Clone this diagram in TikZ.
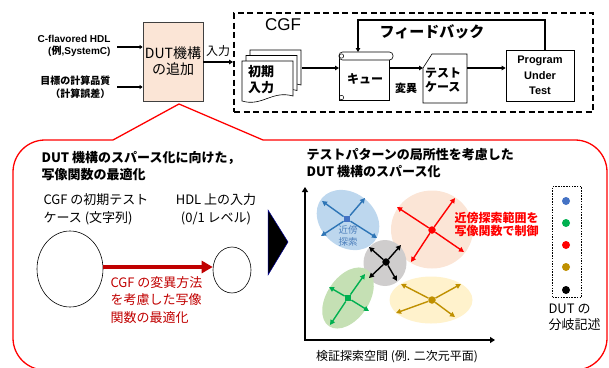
\documentclass[tikz,border=0pt]{standalone}
\usepackage{fontspec}
\setmainfont{Liberation Sans}
\newfontfamily\jp{Noto Sans CJK JP}
\usetikzlibrary{arrows.meta,shapes.geometric}
\definecolor{peach}{HTML}{FBE5D6}
\definecolor{darkred}{HTML}{C00000}
\definecolor{eblue}{HTML}{BDD7EE}
\definecolor{egray}{HTML}{CFCDCD}
\definecolor{egreen}{HTML}{C5E0B4}
\definecolor{eyellow}{HTML}{FFF2CC}
\definecolor{cblue}{HTML}{2E75B6}
\definecolor{dblue}{HTML}{4472C4}
\definecolor{cgreen}{HTML}{00B050}
\definecolor{cgold}{HTML}{BF9000}
\definecolor{lblue}{HTML}{4F81BD}
\definecolor{boxline}{HTML}{404040}
\begin{document}
\begin{tikzpicture}[x=1pt,y=-1pt,
  arr/.style={line width=1.2pt,-{Triangle[length=4pt,width=4.5pt]}},
  inarr/.style={line width=1.6pt,-{Triangle[length=3pt,width=4pt]}},
  sarr/.style={line width=1.4pt,-{Triangle[length=5pt,width=5pt]}},
  dotc/.style={circle,inner sep=0,minimum size=7.5pt},
  dots/.style={rectangle,inner sep=0,minimum size=6.5pt},
  blob/.style={ellipse,inner sep=0},
  anch/.style={inner sep=0,outer sep=0},
  jbold/.style 2 args={font=\jp\bfseries\fontsize{#1}{#2}\selectfont},
  jreg/.style 2 args={font=\jp\fontsize{#1}{#2}\selectfont},
]
\useasboundingbox (0,0) rectangle (609,367);

% ---------- red callout ----------
\coordinate (apex) at (179,104);
\draw[red,line width=1.3pt,rounded corners=32pt] (113,140) -- (13,140) -- (13,370) -- (607,370) -- (607,140) -- (263,140);
\draw[red,line width=1.3pt,line join=round] (113,140) -- (apex) -- (263,140);

% ---------- top: inputs and DUT ----------
\node[anchor=east,align=right,font=\bfseries\fontsize{10}{12.5}\selectfont] (hdl) at (114,46) {C-flavored HDL\\({\jp 例},SystemC)};
\node[anchor=east,align=right,jbold={10}{13}] (qual) at (114,87.5) {目標の計算品質\\（計算誤差）};
\node[draw=boxline,fill=peach,line width=0.8pt,minimum width=60,minimum height=79,inner sep=0,align=center,font=\jp\fontsize{14}{16}\selectfont] (dut) at (173,61.5) {DUT機構\\の追加};
\coordinate (h1) at (117,47);
\coordinate (h2) at (117,87);
\draw[inarr] (h1) -- (dut.west |- h1);
\draw[inarr] (h2) -- (dut.west |- h2);

% ---------- CGF box ----------
\node[draw,line width=1.8pt,dash pattern=on 6pt off 3.5pt,minimum width=359,minimum height=99,inner sep=0] (cgf) at (413.5,62.5) {};
\coordinate (r62) at (0,62);
\draw[arr] (dut.east |- r62) -- (cgf.west |- r62);
\node[jreg={12}{14}] (inlab) at (218,51) {入力};
\node[font=\fontsize{17}{20}\selectfont] (cgflab) at (283,25) {CGF};

% initial inputs (multi document)
\foreach \o in {8,4,0}{
  \begin{scope}[shift={(\o,{-1.375*\o})}]
    \draw[line width=0.6pt,fill=white] (242,61) -- (293,61) -- (293,96) .. controls (272,90) and (262,107) .. (242,101) -- cycle;
  \end{scope}
}
\node[anch,minimum width=60,minimum height=52] (docs) at (272,76) {};
\node[align=left,jbold={13}{16}] (docst) at (261,80) {初期\\入力};

% queue (scroll)
\draw[line width=0.6pt,fill=white] (339,56) -- (339,100) -- (389,100) -- (389,58);
\draw[line width=0.6pt,fill=white,rounded corners=3.5pt] (339,52) rectangle (393,60);
\draw[line width=0.5pt] (341.5,56) circle (2.2);
\draw[line width=0.5pt] (341.5,97.5) circle (2.2);
\node[anch,minimum width=50,minimum height=48] (queue) at (364,76) {};
\node[jbold={12}{14}] (queuet) at (365,79) {キュー};

% test case (card)
\draw[line width=0.6pt,fill=white] (432,54) -- (467,54) -- (467,103) -- (423,103) -- (423,68) -- cycle;
\node[anch,minimum width=44,minimum height=49] (card) at (445,78.5) {};
\node[align=left,jbold={12}{14.5}] (cardt) at (443,80) {テスト\\ケース};

% program under test
\node[draw,line width=0.7pt,minimum width=68,minimum height=51,inner sep=0,align=center,font=\bfseries\fontsize{11}{15.5}\selectfont] (put) at (540,75.5) {Program\\Under\\Test};

\coordinate (row) at (0,68);
\draw[arr] (docs.east |- row) -- (queue.west |- row);
\draw[arr] (queue.east |- row) -- (card.west |- row);
\draw[arr] (card.east |- row) -- (put.west |- row);
\node[jbold={11}{13}] (mut) at (406,88) {変異};

% feedback
\coordinate (fbR) at (545,20);
\coordinate (fbL) at (358,20);
\draw[arr] (fbR |- put.north) -- (fbR) -- (fbL) -- (fbL |- queue.north);
\node[jbold={15}{17}] (fblab) at (432,32) {フィードバック};

% ---------- left panel ----------
\node[anchor=west,align=left,jbold={13}{17}] (ltitle) at (38,166.5) {DUT 機構のスパース化に向けた，\\写像関数の最適化};
\node[anchor=west,align=left,jreg={13}{18}] (cgfinit) at (40,209) {CGF の初期テスト\\ケース (文字列)};
\node[align=center,jreg={13}{18}] (hdlin) at (216,209) {HDL 上の入力\\(0/1 レベル)};
\node[draw,ellipse,line width=0.6pt,minimum width=66,minimum height=76,inner sep=0] (big) at (70,269) {};
\node[draw,ellipse,line width=0.6pt,minimum width=38,minimum height=46,inner sep=0] (small) at (232,270) {};
\coordinate (r267) at (0,267);
\draw[darkred,line width=3.5pt,-{Triangle[length=11pt,width=12pt]}] (big.east |- r267) -- (small.west |- r267);
\node[anchor=west,align=left,text=darkred,jreg={13}{17.5}] (redtxt) at (107,300) {CGF の変異方法\\を考慮した写像\\関数の最適化};
\draw[fill=black,draw=blue!60!black,line width=0.5pt] (268,210) -- (288,242) -- (268,275) -- cycle;

% ---------- right panel ----------
\node[anchor=west,align=left,jbold={13}{17}] (rtitle) at (303,163.5) {テストパターンの局所性を考慮した\\DUT 機構のスパース化};
\coordinate (origin) at (305,340);
\coordinate (ytop) at (305,187);
\coordinate (xend) at (495,340);
\draw[line width=2pt,{Triangle[length=5pt,width=6pt]}-{Triangle[length=5pt,width=6pt]}] (ytop) -- (origin) -- (xend);
\node[jreg={12}{14}] (axlab) at (397,357) {検証探索空間 (例. 二次元平面)};

\node[blob,fill=eblue,minimum width=68,minimum height=54,rotate=-40] (eB) at (348,220) {};
\node[blob,fill=peach,minimum width=82,minimum height=78] (eR) at (432,229.5) {};
\node[blob,fill=egray,minimum width=43,minimum height=46] (eK) at (385,263) {};
\node[blob,fill=egreen,minimum width=68,minimum height=42,rotate=56] (eG) at (348,298) {};
\node[blob,fill=eyellow,minimum width=83,minimum height=47] (eY) at (431,300) {};

\node[lblue,align=center,jreg={9.5}{12}] (kinbo) at (348,236) {近傍\\探索};

% blue
\node[dots,fill=dblue] (cB) at (347,219) {};
\coordinate (b1) at (322,201); \coordinate (b2) at (365,198);
\coordinate (b3) at (321,236); \coordinate (b4) at (377,238);
\foreach \t in {b1,b2,b3,b4} \draw[sarr,cblue] (cB) -- (\t);
% red
\node[dotc,fill=red] (cR) at (432,230) {};
\coordinate (q1) at (397,207); \coordinate (q2) at (455,198);
\coordinate (q3) at (411,262); \coordinate (q4) at (464,252);
\foreach \t in {q1,q2,q3,q4} \draw[sarr,red] (cR) -- (\t);
% gray/black
\node[dotc,fill=black] (cK) at (386,262) {};
\coordinate (k1) at (369,247); \coordinate (k2) at (401,245);
\coordinate (k3) at (369,278); \coordinate (k4) at (397,281);
\foreach \t in {k1,k2,k3,k4} \draw[sarr,black] (cK) -- (\t);
% green
\node[dots,fill=cgreen] (cG) at (348,298) {};
\coordinate (g1) at (365,274); \coordinate (g2) at (329,287);
\coordinate (g3) at (369,311); \coordinate (g4) at (330,325);
\foreach \t in {g1,g2,g3,g4} \draw[sarr,cgreen] (cG) -- (\t);
% yellow
\node[dotc,fill=cgold] (cY) at (432,300) {};
\coordinate (y1) at (401,284); \coordinate (y2) at (461,284);
\coordinate (y3) at (396,313); \coordinate (y4) at (455,317);
\foreach \t in {y1,y2,y3,y4} \draw[sarr,cgold] (cY) -- (\t);

\node[anchor=west,align=left,text=red,jbold={12}{13.5}] (ctrl) at (451,224.5) {近傍探索範囲を\\写像関数で制御};

% legend
\node[draw,line width=1pt,dash pattern=on 1.5pt off 1.2pt,minimum width=29,minimum height=111,inner sep=0] (legend) at (567,242) {};
\node[dotc,minimum size=8pt,fill=dblue] (l1) at (566,201) {};
\node[dotc,minimum size=8pt,fill=cgreen] (l2) at (566,223) {};
\node[dotc,minimum size=8pt,fill=red] (l3) at (566,245) {};
\node[dotc,minimum size=8pt,fill=cgold] (l4) at (566,267) {};
\node[dotc,minimum size=8pt,fill=black] (l5) at (566,290) {};
\node[anchor=west,align=left,jreg={13}{15.5}] (legtxt) at (545,317.5) {DUT の\\分岐記述};
\end{tikzpicture}
\end{document}
